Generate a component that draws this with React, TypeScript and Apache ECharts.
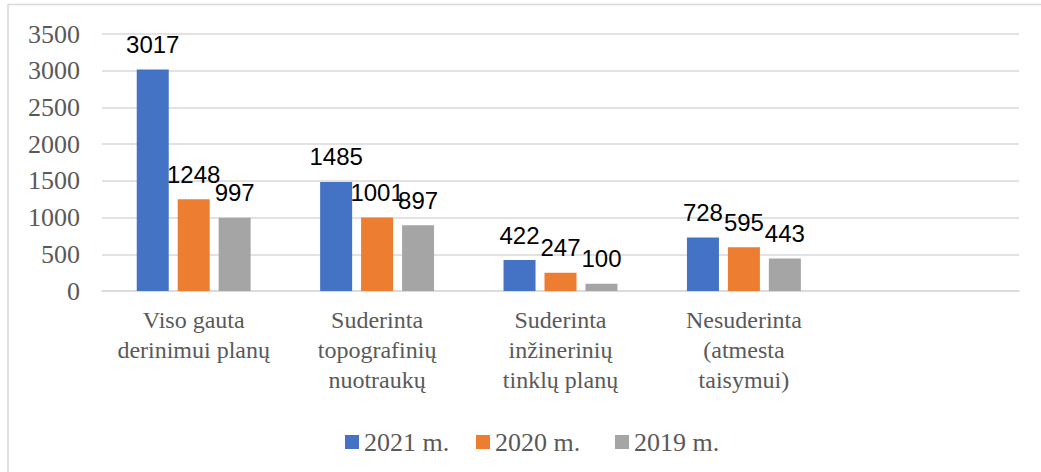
import React, { useEffect, useRef } from "react";
import * as echarts from "echarts";

const categories = [
  "Viso gauta\nderinimui planų",
  "Suderinta\ntopografinių\nnuotraukų",
  "Suderinta\ninžinerinių\ntinklų planų",
  "Nesuderinta\n(atmesta\ntaisymui)",
  "",
];
const seriesNames = ["2021 m.", "2020 m.", "2019 m."];
const values2021 = [3017, 1485, 422, 728];
const values2020 = [1248, 1001, 247, 595];
const values2019 = [997, 897, 100, 443];
const colors = ["#4472C4", "#ED7D31", "#A5A5A5"];
const yTicks = { min: 0, max: 3500, interval: 500 };

export default function App() {
  const ref = useRef<HTMLDivElement>(null);
  useEffect(() => {
    if (!ref.current) return;
    const chart = echarts.init(ref.current, null, { renderer: "svg" });
    const serif = "'Liberation Serif', 'Times New Roman', serif";
    const sans = "'Liberation Sans', Arial, sans-serif";
    const dataSets = [values2021, values2020, values2019];
    const legendLefts = [340, 471, 610];
    chart.setOption({
      animation: false,
      backgroundColor: "#ffffff",
      graphic: [
        {
          type: "rect",
          shape: { x: 8, y: 4.5, width: 1100, height: 600 },
          style: { fill: "none", stroke: "#d9d9d9", lineWidth: 1.5 },
          silent: true,
        },
      ],
      grid: { left: 102, right: 22, top: 34, bottom: 181, containLabel: false },
      legend: seriesNames.map((name, i) => ({
        left: legendLefts[i],
        top: 424,
        itemWidth: 14,
        itemHeight: 14,
        icon: "rect",
        data: [name],
        textStyle: { fontFamily: serif, fontSize: 26, color: "#595959" },
      })),
      xAxis: {
        type: "category",
        data: categories,
        axisLine: { lineStyle: { color: "#d9d9d9", width: 1.5 } },
        axisTick: { show: false },
        axisLabel: {
          interval: 0,
          margin: 14,
          fontFamily: serif,
          fontSize: 24,
          lineHeight: 30,
          color: "#595959",
          align: "center",
        },
      },
      yAxis: {
        type: "value",
        min: yTicks.min,
        max: yTicks.max,
        interval: yTicks.interval,
        axisLine: { show: false },
        axisTick: { show: false },
        splitLine: { lineStyle: { color: "#d9d9d9", width: 1.5 } },
        axisLabel: {
          margin: 22,
          fontFamily: serif,
          fontSize: 26,
          color: "#595959",
          formatter: (v: number) => String(v),
        },
      },
      series: seriesNames.map((name, i) => ({
        name,
        type: "bar",
        data: dataSets[i],
        barWidth: 32,
        barGap: "28%",
        itemStyle: { color: colors[i] },
        label: {
          show: true,
          position: "top",
          distance: 13,
          fontFamily: sans,
          fontSize: 24,
          color: "#000000",
        },
      })),
    });
    return () => chart.dispose();
  }, []);
  return (
    <div
      ref={ref}
      style={{ position: "absolute", left: 0, top: 0, width: 1041, height: 472 }}
    />
  );
}
